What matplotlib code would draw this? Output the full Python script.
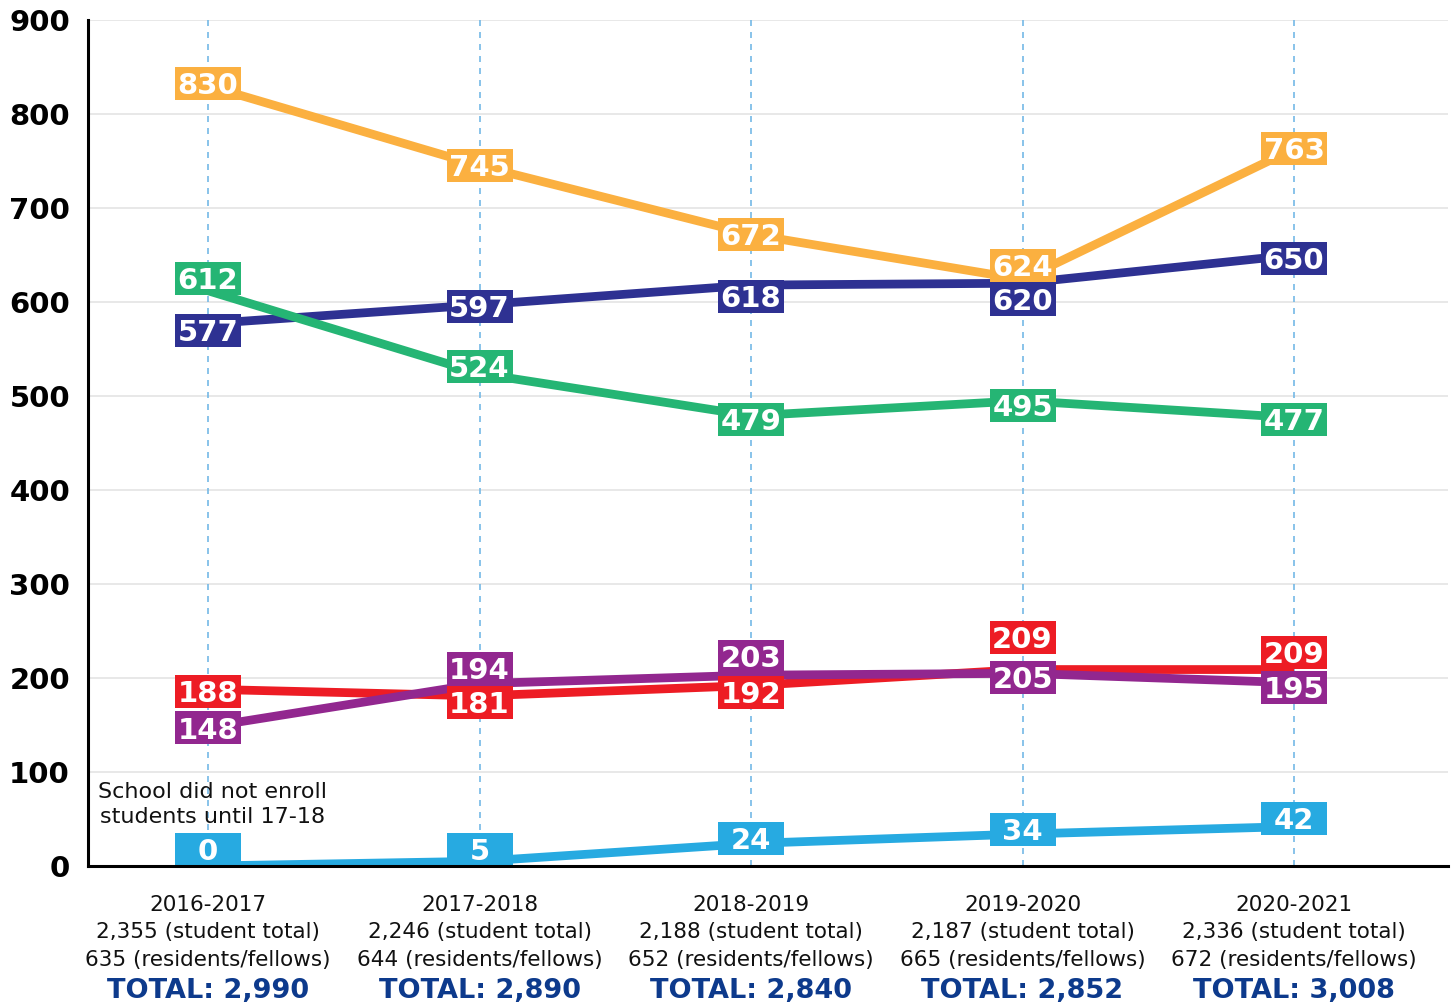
import matplotlib
matplotlib.use("Agg")
import matplotlib.pyplot as plt
from matplotlib.patches import Rectangle
from matplotlib.offsetbox import DrawingArea, AnnotationBbox

# ---------------- data ----------------
years = ["2016-2017", "2017-2018", "2018-2019", "2019-2020", "2020-2021"]
student_totals = ["2,355", "2,246", "2,188", "2,187", "2,336"]
resident_totals = ["635", "644", "652", "665", "672"]
grand_totals = ["2,990", "2,890", "2,840", "2,852", "3,008"]

orange_vals = [830, 745, 672, 624, 763]
navy_vals = [577, 597, 618, 620, 650]
green_vals = [612, 524, 479, 495, 477]
red_vals = [188, 181, 192, 209, 209]
purple_vals = [148, 194, 203, 205, 195]
blue_vals = [0, 5, 24, 34, 42]

y_ticks = [0, 100, 200, 300, 400, 500, 600, 700, 800, 900]
note_text = ["School did not enroll", "students until 17-18"]

# ---------------- styles ----------------
series = [
    (orange_vals, "#FBB040", [2, 0, 0, 14, 0]),
    (navy_vals, "#2E3192", [-7, -2, -11, -16, -3]),
    (green_vals, "#25B574", [12, 7, -4, -5, -2]),
    (red_vals, "#ED1C24", [-2, -7, -7, 32, 17]),
    (purple_vals, "#92278F", [-1, 15, 19, -4, -5]),
    (blue_vals, "#27AAE1", [17, 12, 5, 5, 8]),
]
PX = 0.72  # points per pixel at dpi 100

fig = plt.figure(figsize=(14.52, 10.06), dpi=100)
ax = fig.add_axes([88 / 1452, 1 - 866 / 1006, (1448 - 88) / 1452, 846 / 1006])

x = list(range(len(years)))
ax.set_xlim(-0.442, 4.567)
ax.set_ylim(0, 900)

# grid and vertical dashed guides
for yv in y_ticks[1:]:
    ax.axhline(yv, color="#e6e6e6", lw=1.3, zorder=0)
for xv in x:
    ax.axvline(xv, color="#74b9e6", lw=1.2, linestyle=(0, (3.6, 3.6)), zorder=1)

# lines
for vals, col, _ in series:
    ax.plot(x, vals, color=col, lw=6.3, zorder=3, solid_capstyle="butt")

# label boxes
bw, bh = 66 * PX, 33 * PX
fs = 21
for vals, col, offs in series:
    for xi, v, dy in zip(x, vals, offs):
        da = DrawingArea(bw, bh, 0, 0)
        da.add_artist(Rectangle((0, 0), bw, bh, fc=col, ec="none"))
        ab = AnnotationBbox(da, (xi, v), xybox=(0, dy * PX), xycoords="data",
                            boxcoords="offset points", frameon=False, pad=0,
                            box_alignment=(0.5, 0.5), annotation_clip=False,
                            zorder=5)
        ax.add_artist(ab)
        ax.annotate(str(v), (xi, v), xytext=(0, dy * PX - 0.729 * fs / 2),
                    textcoords="offset points", ha="center", va="baseline",
                    color="white", fontsize=fs, fontweight="bold", zorder=6,
                    annotation_clip=False)

# note
ax.annotate(note_text[0], (0, 0), xytext=(3, 68 * PX), textcoords="offset points",
            ha="center", va="baseline", fontsize=16, color="#111111", zorder=4)
ax.annotate(note_text[1], (0, 0), xytext=(3, 43 * PX), textcoords="offset points",
            ha="center", va="baseline", fontsize=16, color="#111111", zorder=4)

# y ticks
ax.set_yticks(y_ticks)
ax.set_yticklabels([str(t) for t in y_ticks], fontsize=21, fontweight="bold")
ax.tick_params(axis="y", length=0, pad=13)
ax.set_xticks([])

# x category labels
for xi, yr, st, rs, tt in zip(x, years, student_totals, resident_totals, grand_totals):
    kw = dict(xycoords=("data", "axes fraction"), textcoords="offset points",
              ha="center", va="baseline", annotation_clip=False)
    ax.annotate(yr, (xi, 0), xytext=(0, -45 * PX), fontsize=15.5, color="#111111", **kw)
    ax.annotate(f"{st} (student total)", (xi, 0), xytext=(0, -72 * PX),
                fontsize=15.5, color="#111111", **kw)
    ax.annotate(f"{rs} (residents/fellows)", (xi, 0), xytext=(0, -100 * PX),
                fontsize=15.5, color="#111111", **kw)
    ax.annotate(f"TOTAL: {tt}", (xi, 0), xytext=(0, -132 * PX), fontsize=19.5,
                fontweight="bold", color="#0d3a8c", **kw)

for s in ["top", "right"]:
    ax.spines[s].set_visible(False)
ax.spines["left"].set_linewidth(2.2)
ax.spines["bottom"].set_linewidth(2.2)
ax.spines["left"].set_zorder(7)
ax.spines["bottom"].set_zorder(7)

fig.savefig("out.png", dpi=100)
